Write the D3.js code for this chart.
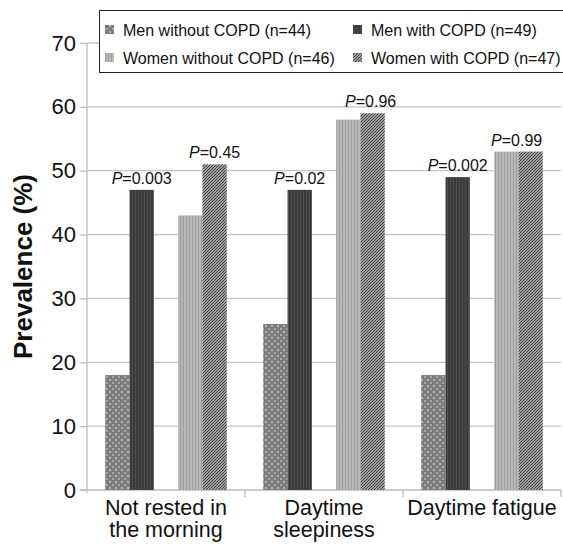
<!DOCTYPE html>
<html><head><meta charset="utf-8">
<script src="https://cdn.jsdelivr.net/npm/d3@7/dist/d3.min.js"></script>
<style>body{margin:0;background:#fff}svg{display:block;font-family:"Liberation Sans",Arial,sans-serif}</style>
</head><body><svg id="c" width="563" height="544"></svg>
<script>
const categories = [["Not rested in","the morning"],["Daytime","sleepiness"],["Daytime fatigue"]];
const seriesNames = ["Men without COPD (n=44)","Men with COPD (n=49)","Women without COPD (n=46)","Women with COPD (n=47)"];
const menWithout = [18, 26, 18];
const menWith = [47, 47, 49];
const womenWithout = [43, 58, 53];
const womenWith = [51, 59, 53];
const yTicks = [0,10,20,30,40,50,60,70];
const pMen = ["0.003","0.02","0.002"];
const pWomen = ["0.45","0.96","0.99"];

(function(){
const svg = d3.select("#c");
const mLeft = 87, mRight = 561, mTop = 43, mBottom = 490;
const y = d3.scaleLinear().domain([0,70]).range([mBottom, mTop]);
const x = d3.scaleBand().domain(d3.range(categories.length)).range([mLeft, mRight]);
const slots = ["mw","mc","gap","ww","wc"];
const xs = d3.scaleBand().domain(slots).range([0, x.bandwidth()]).paddingInner(0).paddingOuter(0.75);

// patterns
const defs = svg.append("defs");
const p1 = defs.append("pattern").attr("id","pMw").attr("patternUnits","userSpaceOnUse").attr("width",6).attr("height",6);
p1.append("rect").attr("width",6).attr("height",6).attr("fill","#7c7c7c");
p1.append("rect").attr("x",1).attr("y",1).attr("width",2).attr("height",2).attr("fill","#b5b5b5");
p1.append("rect").attr("x",4).attr("y",4).attr("width",2).attr("height",2).attr("fill","#a8a8a8");
const p2 = defs.append("pattern").attr("id","pMc").attr("patternUnits","userSpaceOnUse").attr("width",3).attr("height",3);
p2.append("rect").attr("width",3).attr("height",3).attr("fill","#3a3a3a");
p2.append("rect").attr("x",0).attr("width",1).attr("height",3).attr("fill","#4e4e4e");
const p3 = defs.append("pattern").attr("id","pWw").attr("patternUnits","userSpaceOnUse").attr("width",3).attr("height",3);
p3.append("rect").attr("width",3).attr("height",3).attr("fill","#b8b8b8");
p3.append("rect").attr("x",0).attr("width",1).attr("height",3).attr("fill","#9c9c9c");
const p4 = defs.append("pattern").attr("id","pWc").attr("patternUnits","userSpaceOnUse").attr("width",3).attr("height",3);
p4.append("rect").attr("width",3).attr("height",3).attr("fill","#cccccc");
p4.append("path").attr("d","M-1,1 L1,-1 M0,3 L3,0 M2,4 L4,2").attr("stroke","#3c3c3c").attr("stroke-width",1.2);
const fills = {mw:"url(#pMw)", mc:"url(#pMc)", ww:"url(#pWw)", wc:"url(#pWc)"};

// gridlines
svg.append("g").selectAll("line").data(yTicks.filter(d=>d>0)).join("line")
  .attr("x1",mLeft).attr("x2",mRight).attr("y1",d=>y(d)).attr("y2",d=>y(d))
  .attr("stroke","#c4c4c4").attr("stroke-width",1.3);

// y axis
const yAxis = d3.axisLeft(y).tickValues(yTicks).tickSize(7).tickPadding(4);
const gy = svg.append("g").attr("transform",`translate(${mLeft},0)`).call(yAxis);
gy.select(".domain").attr("stroke","#bdbdbd").attr("stroke-width",1.3).attr("d",`M0,${mBottom+3}V${mTop}`);
gy.selectAll(".tick line").attr("stroke","#bdbdbd").attr("stroke-width",1.3);
gy.selectAll(".tick text").attr("font-size",22).attr("fill","#111").attr("font-family","Liberation Sans, Arial, sans-serif");

// x axis
svg.append("line").attr("x1",mLeft-7).attr("x2",mRight).attr("y1",mBottom).attr("y2",mBottom).attr("stroke","#bdbdbd").attr("stroke-width",1.3);
svg.append("g").selectAll("line").data(d3.range(1,categories.length+1)).join("line")
  .attr("x1",d=>x(d-1)+x.bandwidth()).attr("x2",d=>x(d-1)+x.bandwidth()).attr("y1",mBottom).attr("y2",mBottom+7)
  .attr("stroke","#bdbdbd").attr("stroke-width",1.3);

// bars
const series = [["mw",menWithout],["mc",menWith],["ww",womenWithout],["wc",womenWith]];
series.forEach(([k,vals])=>{
  svg.append("g").selectAll("rect").data(vals).join("rect")
    .attr("x",(d,i)=>x(i)+xs(k)).attr("width",xs.bandwidth())
    .attr("y",d=>y(d)).attr("height",d=>mBottom-y(d)).attr("fill",fills[k]);
});

// P labels
const pDx = {mc:[0,0,0], wc:[0,-2,-14]};
function pLabel(vals, texts, k){
  texts.forEach((t,i)=>{
    const tx = svg.append("text").attr("x",x(i)+xs(k)+xs.bandwidth()/2+pDx[k][i]).attr("y",y(vals[i])-6)
      .attr("text-anchor","middle").attr("font-size",16).attr("fill","#111");
    tx.append("tspan").attr("font-style","italic").text("P");
    tx.append("tspan").text("="+t);
  });
}
pLabel(menWith,pMen,"mc");
pLabel(womenWith,pWomen,"wc");

// category labels
categories.forEach((lines,i)=>{
  const t = svg.append("text").attr("text-anchor","middle").attr("font-size",21.5).attr("fill","#111");
  lines.forEach((l,j)=>t.append("tspan").attr("x",x(i)+x.bandwidth()/2).attr("y",515+j*22).text(l));
});

// y label
svg.append("text").attr("transform",`translate(32,${(mTop+mBottom)/2}) rotate(-90)`)
  .attr("text-anchor","middle").attr("font-size",26).attr("font-weight","bold").attr("fill","#111").text("Prevalence (%)");

// legend
svg.append("rect").attr("x",99.5).attr("y",10.5).attr("width",480).attr("height",62)
  .attr("fill","#fff").attr("stroke","#222").attr("stroke-width",1);
const legPos = [[105,30],[353,30],[105,58],[353,58]];
series.forEach(([k],i)=>{
  const [lx,ly] = legPos[i];
  svg.append("rect").attr("x",lx).attr("y",ly-5).attr("width",9).attr("height",9).attr("fill",fills[k]);
  svg.append("text").attr("x",lx+18).attr("y",ly+5.5).attr("font-size",16).attr("fill","#111").text(seriesNames[i]);
});
})();
</script></body></html>
